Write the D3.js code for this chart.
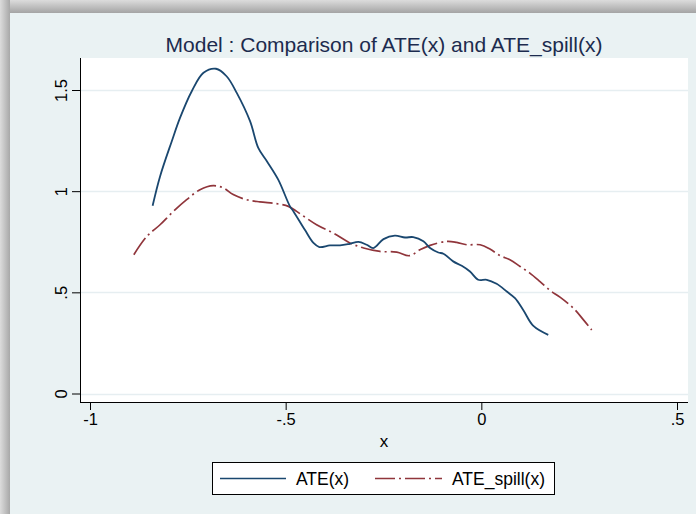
<!DOCTYPE html>
<html>
<head>
<meta charset="utf-8">
<script src="https://cdn.jsdelivr.net/npm/d3@7"></script>
<style>
  html, body { margin: 0; padding: 0; background: #ffffff; }
  svg { display: block; }
  text { font-family: "Liberation Sans", Arial, sans-serif; }
</style>
</head>
<body>
<script>
// ---- Data ----
const ateX = [-0.840, -0.821, -0.791, -0.770, -0.740, -0.710, -0.678, -0.651, -0.625, -0.591, -0.570, -0.548, -0.519, -0.489, -0.480, -0.451, -0.429, -0.414, -0.387, -0.361, -0.336, -0.314, -0.293, -0.276, -0.250, -0.221, -0.195, -0.174, -0.148, -0.131, -0.110, -0.097, -0.072, -0.050, -0.029, -0.008, 0.014, 0.039, 0.065, 0.086, 0.107, 0.133, 0.171];
const ateY = [0.928, 1.073, 1.247, 1.362, 1.494, 1.585, 1.605, 1.568, 1.486, 1.346, 1.214, 1.148, 1.057, 0.925, 0.900, 0.809, 0.744, 0.724, 0.732, 0.732, 0.740, 0.749, 0.735, 0.719, 0.763, 0.780, 0.771, 0.773, 0.752, 0.719, 0.697, 0.691, 0.653, 0.631, 0.603, 0.562, 0.562, 0.542, 0.504, 0.471, 0.413, 0.334, 0.290];

const spillX = [-0.888, -0.855, -0.821, -0.787, -0.753, -0.719, -0.685, -0.659, -0.634, -0.600, -0.566, -0.523, -0.493, -0.472, -0.421, -0.378, -0.336, -0.301, -0.259, -0.216, -0.184, -0.157, -0.131, -0.088, -0.063, -0.037, -0.003, 0.022, 0.048, 0.073, 0.099, 0.124, 0.150, 0.176, 0.201, 0.235, 0.261, 0.282];
const spillY = [0.686, 0.776, 0.834, 0.900, 0.958, 1.007, 1.027, 1.016, 0.983, 0.958, 0.947, 0.938, 0.925, 0.900, 0.834, 0.793, 0.744, 0.719, 0.702, 0.699, 0.681, 0.710, 0.732, 0.752, 0.747, 0.735, 0.735, 0.714, 0.681, 0.661, 0.628, 0.595, 0.553, 0.509, 0.476, 0.422, 0.364, 0.314];

const xTicks = [-1, -0.5, 0, 0.5];
const xTickLabels = ["-1", "-.5", "0", ".5"];
const yTicks = [0, 0.5, 1, 1.5];
const yTickLabels = ["0", ".5", "1", "1.5"];
const seriesNames = ["ATE(x)", "ATE_spill(x)"];
const titleText = "Model : Comparison of ATE(x) and ATE_spill(x)";
const xTitle = "x";

// ---- Layout ----
const W = 696, H = 514;
const plot = { left: 80, top: 58, right: 688, bottom: 402 };
const blue = "#1a476f", red = "#90353b";

const svg = d3.select("body").append("svg").attr("width", W).attr("height", H);
const defs = svg.append("defs");
const gTop = defs.append("linearGradient").attr("id", "shTop").attr("x1", 0).attr("y1", 0).attr("x2", 0).attr("y2", 1);
gTop.append("stop").attr("offset", "0%").attr("stop-color", "#dcdcdc");
gTop.append("stop").attr("offset", "100%").attr("stop-color", "#a4a4a4");
const gLeft = defs.append("linearGradient").attr("id", "shLeft").attr("x1", 0).attr("y1", 0).attr("x2", 1).attr("y2", 0);
gLeft.append("stop").attr("offset", "0%").attr("stop-color", "#dcdcdc");
gLeft.append("stop").attr("offset", "100%").attr("stop-color", "#a8a8a8");

// shadows + outer frame
svg.append("rect").attr("x", 0).attr("y", 0).attr("width", W).attr("height", H).attr("fill", "#d6d6d6");
svg.append("rect").attr("x", 0).attr("y", 0).attr("width", W).attr("height", 13).attr("fill", "url(#shTop)");
svg.append("rect").attr("x", 0).attr("y", 0).attr("width", 10).attr("height", H).attr("fill", "url(#shLeft)");
svg.append("rect").attr("x", 10).attr("y", 13).attr("width", W - 10).attr("height", H - 13).attr("fill", "#eaf2f3");

// plot region
svg.append("rect").attr("x", plot.left).attr("y", plot.top)
  .attr("width", plot.right - plot.left).attr("height", plot.bottom - plot.top).attr("fill", "#ffffff");

const x = d3.scaleLinear().domain([-1, 0.5]).range([90, 677]);
const y = d3.scaleLinear().domain([0, 1.5]).range([393.5, 90]);

// gridlines
svg.append("g").selectAll("line").data(yTicks).join("line")
  .attr("x1", plot.left).attr("x2", plot.right)
  .attr("y1", d => Math.round(y(d)) + 0.5).attr("y2", d => Math.round(y(d)) + 0.5)
  .attr("stroke", "#e6eef1").attr("stroke-width", 1.5);

// axes
const yAxis = d3.axisLeft(y).tickValues(yTicks).tickFormat((d, i) => yTickLabels[i]).tickSize(8).tickPadding(4);
const gy = svg.append("g").attr("transform", `translate(${plot.left},0)`).call(yAxis);
gy.select(".domain").remove();
gy.selectAll(".tick line").attr("stroke", "#000");
gy.selectAll(".tick text")
  .attr("font-size", 16.5).attr("fill", "#000")
  .attr("transform", "rotate(-90)")
  .attr("x", 0).attr("y", -13).attr("dy", 0)
  .attr("text-anchor", "middle");

const xAxis = d3.axisBottom(x).tickValues(xTicks).tickFormat((d, i) => xTickLabels[i]).tickSize(8).tickPadding(4);
const gx = svg.append("g").attr("transform", `translate(0,${plot.bottom})`).call(xAxis);
gx.select(".domain").remove();
gx.selectAll(".tick line").attr("stroke", "#000");
gx.selectAll(".tick text").attr("font-size", 16.5).attr("fill", "#000").attr("y", 11).attr("dy", "0.71em");

svg.append("line").attr("x1", plot.left + 0.5).attr("x2", plot.left + 0.5)
  .attr("y1", plot.top).attr("y2", plot.bottom).attr("stroke", "#000");
svg.append("line").attr("x1", plot.left).attr("x2", plot.right)
  .attr("y1", plot.bottom + 0.5).attr("y2", plot.bottom + 0.5).attr("stroke", "#000");

// axis title
svg.append("text").attr("x", (plot.left + plot.right) / 2).attr("y", 447)
  .attr("text-anchor", "middle").attr("font-size", 17).attr("fill", "#000").text(xTitle);

// title
svg.append("text").attr("x", (plot.left + plot.right) / 2).attr("y", 52)
  .attr("text-anchor", "middle").attr("font-size", 21).attr("fill", "#1c2b4e").text(titleText);

// lines
const line = d3.line().x(d => x(d[0])).y(d => y(d[1])).curve(d3.curveCatmullRom.alpha(0.5));
const ateData = ateX.map((v, i) => [v, ateY[i]]);
const spillData = spillX.map((v, i) => [v, spillY[i]]);

svg.append("path").datum(spillData).attr("d", line).attr("fill", "none")
  .attr("stroke", red).attr("stroke-width", 1.7).attr("stroke-dasharray", "20,4,2,4");
svg.append("path").datum(ateData).attr("d", line).attr("fill", "none")
  .attr("stroke", blue).attr("stroke-width", 1.8);

// legend
const lg = svg.append("g");
lg.append("rect").attr("x", 212.5).attr("y", 462.5).attr("width", 342).attr("height", 32)
  .attr("fill", "#ffffff").attr("stroke", "#000").attr("stroke-width", 1);
lg.append("line").attr("x1", 220).attr("x2", 286).attr("y1", 478.5).attr("y2", 478.5)
  .attr("stroke", blue).attr("stroke-width", 1.7);
lg.append("text").attr("x", 296).attr("y", 484.5).attr("font-size", 17.5).attr("fill", "#000").text(seriesNames[0]);
lg.append("line").attr("x1", 375).attr("x2", 442).attr("y1", 478.5).attr("y2", 478.5)
  .attr("stroke", red).attr("stroke-width", 1.7).attr("stroke-dasharray", "20,4,2,4");
lg.append("text").attr("x", 452).attr("y", 484.5).attr("font-size", 17.5).attr("fill", "#000").text(seriesNames[1]);
</script>
</body>
</html>
